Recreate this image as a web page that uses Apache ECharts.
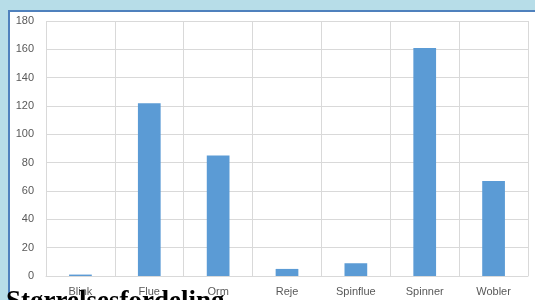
<!DOCTYPE html>
<html>
<head>
<meta charset="utf-8">
<script src="https://cdn.jsdelivr.net/npm/echarts@6/dist/echarts.min.js"></script>
<style>
html,body{margin:0;padding:0;background:#b7dde8;}
#chart{width:535px;height:300px;}
</style>
</head>
<body>
<div id="chart"></div>
<script>
var categories = ['Blink','Flue','Orm','Reje','Spinflue','Spinner','Wobler'];
var counts = [1,122,85,5,9,161,67];
var titleText = 'Størrelsesfordeling';

var myChart = echarts.init(document.getElementById('chart'));
var option = {
	backgroundColor: '#b7dde8',
	animation: false,
	graphic: [
		{type:'rect', z:-10, shape:{x:10,y:12,width:530,height:300}, style:{fill:'#ffffff'}},
		{type:'rect', z:-9, shape:{x:8,y:10,width:530,height:2}, style:{fill:'#4f81bd'}},
		{type:'rect', z:-9, shape:{x:8,y:10,width:2,height:300}, style:{fill:'#4f81bd'}},
		{type:'text', z:100, x:6, y:302, style:{
			text: titleText,
			font: 'bold 27px "Liberation Serif"',
			fill: '#000000',
			verticalAlign: 'middle'
		}}
	],
	grid: {left:46, right:7, top:21, bottom:24},
	xAxis: {
		type: 'category',
		data: categories,
		boundaryGap: true,
		axisLine: {show:true, lineStyle:{color:'#d9d9d9', width:1}},
		axisTick: {show:false},
		splitLine: {show:true, lineStyle:{color:'#d9d9d9', width:1}},
		axisLabel: {color:'#595959', fontSize:11, fontFamily:'Liberation Sans', margin:10, interval:0}
	},
	yAxis: {
		type: 'value',
		min: 0,
		max: 180,
		interval: 20,
		axisLine: {show:false},
		axisTick: {show:false},
		splitLine: {show:true, lineStyle:{color:'#d9d9d9', width:1}},
		axisLabel: {color:'#595959', fontSize:11, fontFamily:'Liberation Sans', margin:12}
	},
	series: [{
		type: 'bar',
		data: counts,
		barWidth: '33%',
		itemStyle: {color:'#5b9bd5'}
	}]
};
myChart.setOption(option);
</script>
</body>
</html>
